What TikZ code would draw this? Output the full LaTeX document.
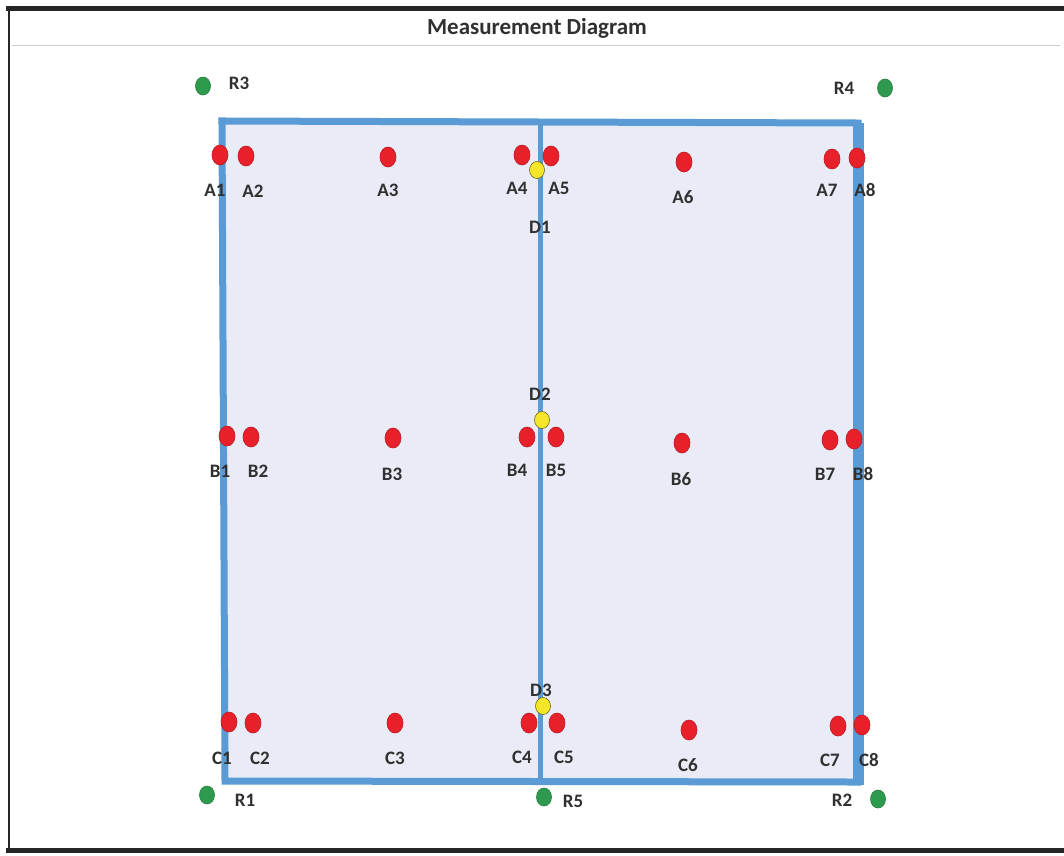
\documentclass[tikz,border=0pt]{standalone}
\usepackage{fontspec}
\setmainfont{Carlito}
\usetikzlibrary{shapes.geometric}
\definecolor{frameblue}{HTML}{5B9BD5}
\definecolor{panelfill}{HTML}{E9EBF7}
\definecolor{dotred}{HTML}{E8202A}
\definecolor{dotgreen}{HTML}{2E9A4E}
\definecolor{dotyellow}{HTML}{F5E62A}
\definecolor{labelgray}{HTML}{303030}
\tikzset{
  reddot/.style={ellipse,draw=dotred!80!black,line width=0.6pt,fill=dotred,minimum width=16pt,minimum height=20pt,inner sep=0pt},
  greendot/.style={ellipse,draw=dotgreen!80!black,line width=0.6pt,fill=dotgreen,minimum width=15pt,minimum height=18pt,inner sep=0pt},
  yellowdot/.style={ellipse,draw=olive!70!black,line width=0.6pt,fill=dotyellow,minimum width=15pt,minimum height=17pt,inner sep=0pt},
  ptlabel/.style={text=labelgray,font=\fontsize{19}{20}\selectfont\bfseries,inner sep=0pt},
  bluewall/.style={draw=frameblue,line width=7pt,line cap=rect}
}
\begin{document}
\begin{tikzpicture}[x=1pt,y=-1pt]
\useasboundingbox (0,0) rectangle (1064,855);
\fill[white] (0,0) rectangle (1064,855);
% outer frame
\draw[black!85,line width=5pt] (6,8) -- (1064,8);
\draw[black!85,line width=2pt] (9,8) -- (9,852);
\draw[black!85,line width=5pt] (6,850) -- (1064,850);
\draw[black!20,line width=1pt] (12,45) -- (1060,45);
\node[font=\fontsize{23}{24}\selectfont\bfseries,text=labelgray] (title) at (537,28) {Measurement Diagram};
% panel
\fill[panelfill] (222,121) -- (858,123) -- (858,781) -- (225,781) -- cycle;
\draw[bluewall] (222,121) -- (858,123);
\draw[bluewall] (222,121) -- (225,781) -- (858,782);
\draw[draw=frameblue,line width=11pt] (858,123) -- (858,785);
\draw[draw=frameblue,line width=5pt] (540,121) -- (540,781);
% A row
\node[reddot] (A1) at (220,155) {};
\node[reddot] (A2) at (246,156) {};
\node[reddot] (A3) at (388,157) {};
\node[reddot] (A4) at (522,155) {};
\node[reddot] (A5) at (551,156) {};
\node[reddot] (A6) at (684,162) {};
\node[reddot] (A7) at (832,159) {};
\node[reddot] (A8) at (857,158) {};
\node[yellowdot] (D1) at (537,170) {};
\node[ptlabel] (lA1) at (215,190) {A1};
\node[ptlabel] (lA2) at (253,191) {A2};
\node[ptlabel] (lA3) at (388,190) {A3};
\node[ptlabel] (lA4) at (517,188) {A4};
\node[ptlabel] (lA5) at (559,188) {A5};
\node[ptlabel] (lA6) at (683,197) {A6};
\node[ptlabel] (lA7) at (827,190) {A7};
\node[ptlabel] (lA8) at (865,190) {A8};
\node[ptlabel] (lD1) at (540,227) {D1};
% B row
\node[reddot] (B1) at (227,436) {};
\node[reddot] (B2) at (251,437) {};
\node[reddot] (B3) at (393,438) {};
\node[reddot] (B4) at (527,437) {};
\node[reddot] (B5) at (556,437) {};
\node[reddot] (B6) at (682,443) {};
\node[reddot] (B7) at (830,440) {};
\node[reddot] (B8) at (854,439) {};
\node[yellowdot] (D2) at (542,420) {};
\node[ptlabel] (lB1) at (220,471) {B1};
\node[ptlabel] (lB2) at (258,471) {B2};
\node[ptlabel] (lB3) at (392,474) {B3};
\node[ptlabel] (lB4) at (517,470) {B4};
\node[ptlabel] (lB5) at (556,470) {B5};
\node[ptlabel] (lB6) at (681,479) {B6};
\node[ptlabel] (lB7) at (825,474) {B7};
\node[ptlabel] (lB8) at (863,474) {B8};
\node[ptlabel] (lD2) at (540,394) {D2};
% C row
\node[reddot] (C1) at (229,722) {};
\node[reddot] (C2) at (253,723) {};
\node[reddot] (C3) at (395,723) {};
\node[reddot] (C4) at (529,723) {};
\node[reddot] (C5) at (557,723) {};
\node[reddot] (C6) at (689,730) {};
\node[reddot] (C7) at (838,726) {};
\node[reddot] (C8) at (862,725) {};
\node[yellowdot] (D3) at (543,706) {};
\node[ptlabel] (lC1) at (222,758) {C1};
\node[ptlabel] (lC2) at (260,758) {C2};
\node[ptlabel] (lC3) at (395,758) {C3};
\node[ptlabel] (lC4) at (522,757) {C4};
\node[ptlabel] (lC5) at (564,757) {C5};
\node[ptlabel] (lC6) at (688,765) {C6};
\node[ptlabel] (lC7) at (830,760) {C7};
\node[ptlabel] (lC8) at (869,760) {C8};
\node[ptlabel] (lD3) at (541,690) {D3};
% reference points
\node[greendot] (R3) at (203,86) {};
\node[ptlabel] (lR3) at (239,83) {R3};
\node[greendot] (R4) at (885,88) {};
\node[ptlabel] (lR4) at (844,88) {R4};
\node[greendot] (R1) at (207,795) {};
\node[ptlabel] (lR1) at (245,800) {R1};
\node[greendot] (R5) at (544,797) {};
\node[ptlabel] (lR5) at (573,801) {R5};
\node[greendot] (R2) at (878,799) {};
\node[ptlabel] (lR2) at (842,800) {R2};
\end{tikzpicture}
\end{document}
